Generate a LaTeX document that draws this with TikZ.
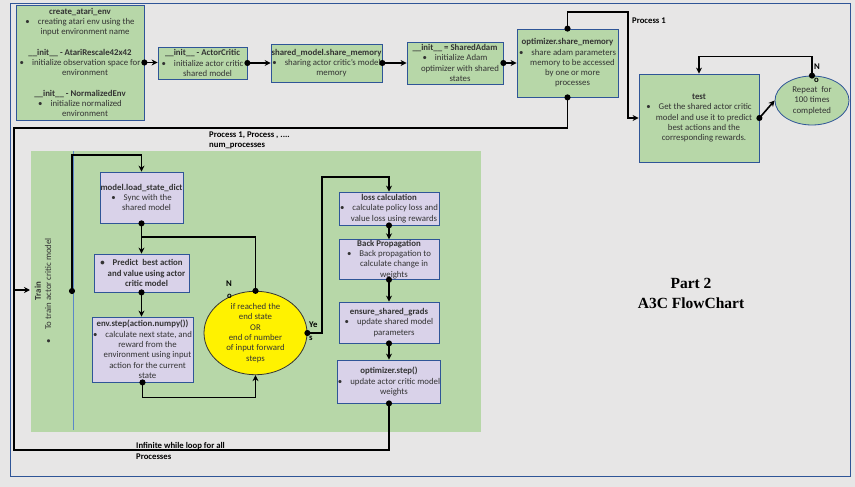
\documentclass[tikz,border=0pt]{standalone}
\usepackage{fontspec}
\setmainfont{Carlito}
\newfontfamily\titlefont{Liberation Serif}
\usetikzlibrary{arrows.meta,shapes.geometric}
\definecolor{bg}{HTML}{E7E6E6}
\definecolor{gfill}{HTML}{B7D7A8}
\definecolor{pfill}{HTML}{D9D2E9}
\definecolor{bord}{HTML}{2F5597}
\definecolor{lanecol}{HTML}{5B87C8}
\definecolor{txt}{HTML}{333333}
\newcommand{\contl}{\hspace*{10pt}}
\newcommand{\bul}{\textbullet\hspace{8pt}}
\begin{document}
\begin{tikzpicture}[x=1pt,y=-1pt,
  every node/.style={font=\fontsize{8.8}{10.3}\selectfont, text=txt, inner sep=0.5pt},
  gbox/.style={draw=bord, fill=gfill, line width=0.8pt, align=center},
  pbox/.style={draw=bord, fill=pfill, line width=0.8pt, align=center},
  conn/.style={line width=1.6pt, shorten <=-3pt, {Circle[length=6pt,width=6pt]}-{Stealth[length=6pt,width=6pt]}},
  joinline/.style={line width=1.6pt, shorten <=-3pt, {Circle[length=6pt,width=6pt]}-},
  lbl/.style={font=\fontsize{8.7}{10}\selectfont\bfseries, text=black, anchor=west, inner sep=0pt}
]
\fill[bg] (0,0) rectangle (855,487);
\draw[bord, line width=0.8pt] (10,3) rectangle (850,476);

% train lane
\fill[gfill] (31,151) rectangle (481,432);
\draw[lanecol, line width=0.7pt] (73,151) -- (73,430);
\node[rotate=90, align=center] (lanetxt) at (43,291) {\textbf{Train}\\\textbullet\hspace{10pt}To train actor critic model};
\coordinate (tin) at (30,290);
\coordinate (lanestart) at (72,291);

% top row
\node[gbox, minimum width=128pt, minimum height=115pt] (b1) at (80,62.5) {\textbf{create\_atari\_env}\\ \bul creating atari env using the\\ \contl input environment name\\[10pt] \textbf{\_\_init\_\_ - AtariRescale42x42}\\ \bul initialize observation space for\\ \contl environment\\[10pt] \textbf{\_\_init\_\_ - NormalizedEnv}\\ \bul initialize normalized\\ \contl environment};
\node[gbox, minimum width=89pt, minimum height=32pt] (b2) at (202.5,63) {\textbf{\_\_init\_\_ - ActorCritic}\\ \bul initialize actor critic\\ \contl shared model};
\node[gbox, minimum width=109pt, minimum height=38pt] (b3) at (326.5,63) {\textbf{shared\_model.share\_memory}\\ \bul sharing actor critic's model\\ \contl memory};
\node[gbox, minimum width=96pt, minimum height=42pt] (b4) at (455,63) {\textbf{\_\_init\_\_ = SharedAdam}\\ \bul initialize Adam\\ \contl optimizer with shared\\ \contl states};
\node[gbox, minimum width=101pt, minimum height=68pt] (b5) at (567.5,63) {\textbf{optimizer.share\_memory}\\ \bul share adam parameters\\ \contl memory to be accessed\\ \contl by one or more\\ \contl processes};
\node[gbox, minimum width=120pt, minimum height=88pt] (test) at (699,118) {\textbf{test}\\ \bul Get the shared actor critic\\ \contl model and use it to predict\\ \contl best actions and the\\ \contl corresponding rewards.};
\node[ellipse, draw=bord, fill=gfill, line width=0.8pt, minimum width=74pt, minimum height=49pt, align=center, inner sep=0pt] (rep) at (812,100.5) {Repeat\ \ for\\100 times\\completed};

% lane nodes
\node[pbox, minimum width=83pt, minimum height=51pt] (lsd) at (141.5,197.5) {\textbf{model.load\_state\_dict}\\ \bul Sync with the\\ \contl shared model};
\node[pbox, minimum width=95pt, minimum height=38pt, font=\fontsize{8.8}{10.3}\selectfont\bfseries] (pred) at (141.5,273) {\bul Predict\ \ best action\\ \contl and value using actor\\ \contl critic model};
\node[pbox, minimum width=101pt, minimum height=65pt] (env) at (142.5,349.5) {\textbf{env.step(action.numpy())}\\ \bul calculate next state, and\\ \contl reward from the\\ \contl environment using input\\ \contl action for the current\\ \contl state};
\node[ellipse, draw=black!80, fill=yellow, line width=0.8pt, minimum width=103pt, minimum height=82pt, align=center, inner sep=0pt] (ell) at (255.5,333) {if reached the\\end state\\OR\\end of number\\of input forward\\steps};
\node[pbox, minimum width=100pt, minimum height=33pt] (loss) at (389,208.5) {\textbf{loss calculation}\\ \bul calculate policy loss and\\ \contl value loss using rewards};
\node[pbox, minimum width=100pt, minimum height=35pt] (bp) at (389,259.5) {\textbf{Back Propagation}\\ \bul Back propagation to\\ \contl calculate change in\\ \contl weights};
\node[pbox, minimum width=100pt, minimum height=41pt] (ens) at (389,322.5) {\textbf{ensure\_shared\_grads}\\ \bul update shared model\\ \contl parameters};
\node[pbox, minimum width=100pt, minimum height=43pt] (opt) at (389,381.5) {\textbf{optimizer.step()}\\ \bul update actor critic model\\ \contl weights};

% top connectors
\draw[conn] (b1.east) -- (b1.east -| b2.west);
\draw[conn] (b2.east) -- (b2.east -| b3.west);
\draw[conn] (b3.east) -- (b3.east -| b4.west);
\draw[conn] (b4.east) -- (b4.east -| b5.west);
\draw[conn] (b5.north) |- (628,12) |- (test.west);
\draw[conn] (test.east) -- (rep.west);
\draw[conn] (rep.north) -- ++(0,-19) -| (test.north);

% big loop
\draw[conn] (b5.south) |- (14,128) |- (tin);
\draw[joinline] (opt.south) |- (14,450) -- (14,290);

% lane connectors
\draw[conn] (lanestart) -- (72,155) -| (lsd.north);
\draw[conn] (lsd.south) -- (pred.north);
\draw[joinline] (ell.north) |- (141.5,237);
\draw[conn] (pred.south) -- (pred.south |- env.north);
\draw[conn] (env.south) -- ++(0,15) -| (ell.south);
\draw[conn] (ell.east) -| (322,177) -| (loss.north);
\draw[conn] (loss.south) -- (bp.north);
\draw[conn] (bp.south) -- (ens.north);
\draw[conn] (ens.south) -- (opt.north);

% labels
\node[lbl] (lp1) at (632,21) {Process 1};
\node[lbl] (lpa) at (209,135) {Process 1, Process , ....};
\node[lbl] (lpb) at (209,146) {num\_processes};
\node[lbl] (linf1) at (136,446) {Infinite while loop for all};
\node[lbl] (linf2) at (136,457) {Processes};
\node[lbl] (lno1) at (226,284) {N};
\node[lbl] (lno2) at (227,296) {o};
\node[lbl] (lye1) at (309,325) {Ye};
\node[lbl] (lye2) at (309,338) {s};
\node[lbl] (rn1) at (814,67) {N};
\node[lbl] (rn2) at (814,80) {o};
\node[font=\titlefont\fontsize{15.5}{20}\selectfont\bfseries, text=black, align=center] (title) at (691,293) {Part 2\\A3C FlowChart};
\end{tikzpicture}
\end{document}
